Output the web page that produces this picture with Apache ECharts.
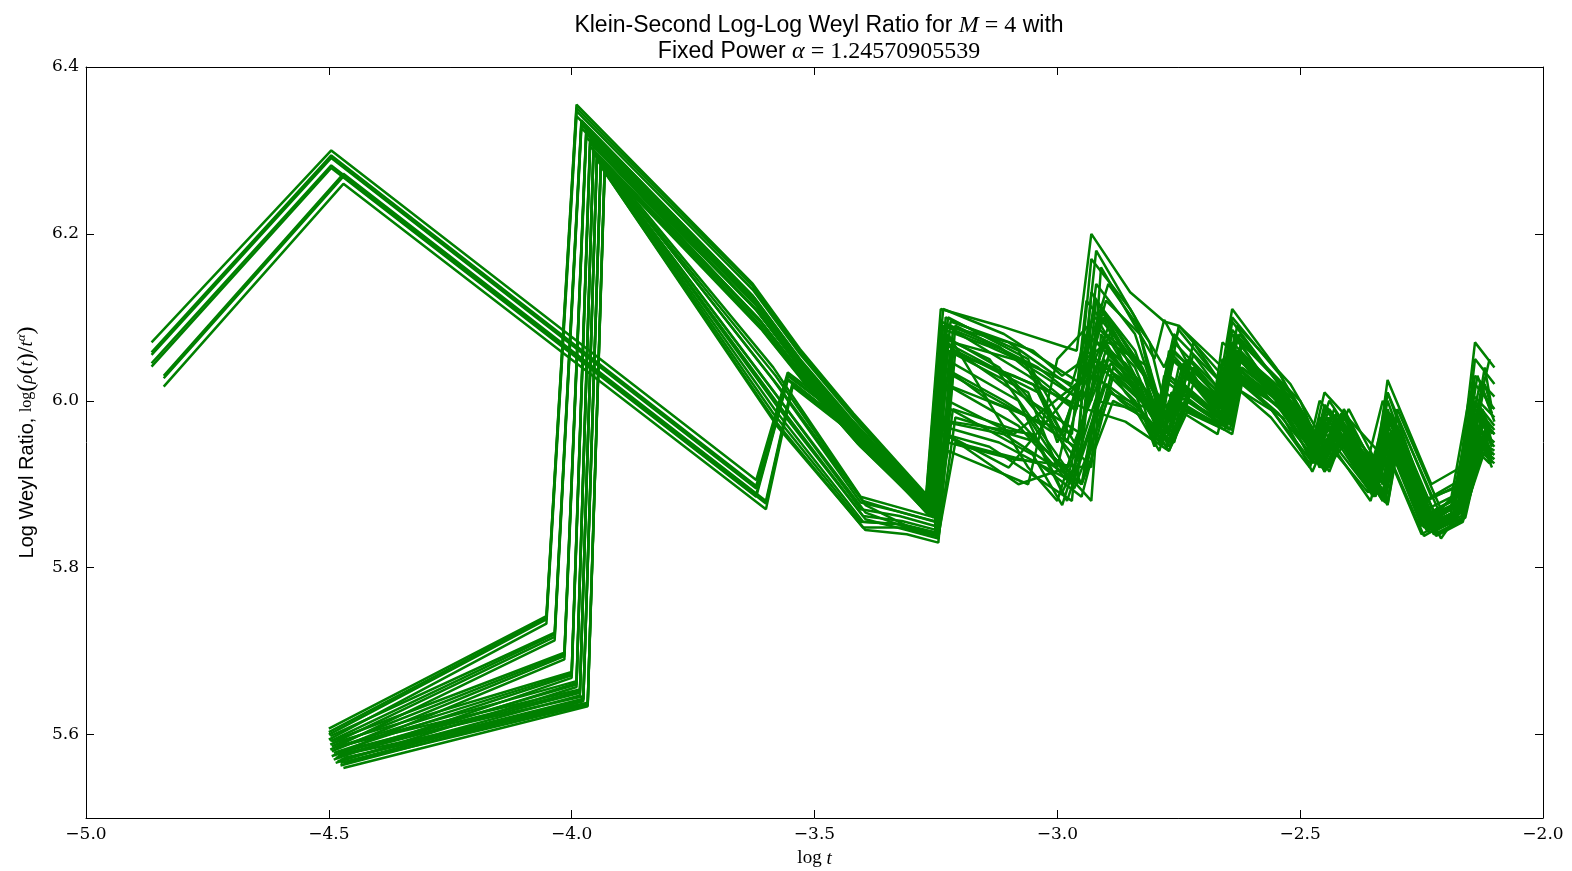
<!DOCTYPE html>
<html>
<head>
<meta charset="utf-8">
<script src="https://cdn.jsdelivr.net/npm/echarts@6/dist/echarts.min.js"></script>
<style>html,body{margin:0;padding:0;background:#fff}#c{width:1572px;height:871px}</style>
</head>
<body>
<div id="c"></div>
<script>
// ---- tick values ----
const xTicks = [-5.0, -4.5, -4.0, -3.5, -3.0, -2.5, -2.0];
const yTicks = [5.6, 5.8, 6.0, 6.2, 6.4];

// ---- x positions (log t) shared by groups of curves ----
const xT1 = [-4.500,-4.052,-3.990,-3.627,-3.530,-3.420,-3.270,-3.240,-3.120,-2.960,-2.930,-2.850,-2.780,-2.750,-2.660,-2.640,-2.550,-2.470,-2.450,-2.340,-2.320,-2.230,-2.170,-2.140,-2.100];
const xT2 = [-4.497,-4.035,-3.980,-3.622,-3.527,-3.417,-3.267,-3.230,-3.100,-2.930,-2.910,-2.840,-2.800,-2.780,-2.680,-2.660,-2.560,-2.480,-2.460,-2.360,-2.330,-2.250,-2.160,-2.120,-2.105];
const xT3 = [-4.494,-4.015,-3.970,-3.618,-3.523,-3.413,-3.262,-3.225,-3.060,-3.000,-2.920,-2.870,-2.760,-2.720,-2.650,-2.630,-2.520,-2.440,-2.410,-2.330,-2.300,-2.210,-2.180,-2.130,-2.110];
const xT4 = [-4.490,-4.000,-3.962,-3.614,-3.520,-3.410,-3.258,-3.220,-3.050,-2.990,-2.895,-2.810,-2.785,-2.765,-2.655,-2.635,-2.545,-2.455,-2.425,-2.345,-2.315,-2.235,-2.175,-2.135,-2.100];
const xT5 = [-4.486,-3.990,-3.955,-3.610,-3.516,-3.405,-3.255,-3.232,-3.140,-2.970,-2.940,-2.860,-2.770,-2.740,-2.670,-2.645,-2.535,-2.475,-2.445,-2.355,-2.325,-2.245,-2.185,-2.145,-2.110];
const xT6 = [-4.482,-3.983,-3.948,-3.585,-3.405,-3.325,-3.252,-3.230,-3.080,-2.980,-2.900,-2.830,-2.790,-2.770,-2.670,-2.625,-2.530,-2.460,-2.430,-2.350,-2.310,-2.240,-2.190,-2.150,-2.100];
const xT7 = [-4.476,-3.976,-3.940,-3.580,-3.400,-3.320,-3.248,-3.215,-3.060,-2.965,-2.890,-2.825,-2.775,-2.735,-2.645,-2.622,-2.515,-2.452,-2.415,-2.325,-2.305,-2.225,-2.168,-2.125,-2.105];
const xT8 = [-4.470,-3.967,-3.932,-3.575,-3.395,-3.310,-3.245,-3.210,-3.040,-2.950,-2.885,-2.820,-2.770,-2.730,-2.640,-2.620,-2.500,-2.450,-2.400,-2.320,-2.300,-2.220,-2.165,-2.120,-2.105];
const xA1 = [-4.865,-4.495,-3.620,-3.555,-3.420,-3.330,-3.270,-3.235,-3.110,-2.950,-2.920,-2.840,-2.790,-2.760,-2.660,-2.640,-2.540,-2.470,-2.440,-2.350,-2.320,-2.240,-2.170,-2.140,-2.100];
const xA2 = [-4.840,-4.470,-3.600,-3.545,-3.415,-3.320,-3.265,-3.225,-3.090,-2.940,-2.905,-2.860,-2.770,-2.740,-2.650,-2.630,-2.510,-2.460,-2.420,-2.330,-2.305,-2.220,-2.160,-2.125,-2.105];

// ---- log Weyl ratio values, one array per curve ----
const yB1  = [5.607,5.742,6.355,6.140,6.062,5.985,5.888,6.110,6.090,6.060,6.200,6.130,6.095,6.090,6.040,6.110,6.040,5.960,6.010,5.940,6.025,5.900,5.920,6.070,6.040];
const yB2  = [5.600,5.738,6.347,6.133,6.056,5.980,5.882,6.080,6.040,5.930,6.130,6.060,5.990,6.090,6.030,6.080,6.010,5.940,5.990,5.920,5.980,5.860,5.880,5.990,5.960];
const yB3  = [5.594,5.733,6.341,6.126,6.050,5.975,5.877,5.970,5.950,5.900,6.050,6.020,5.960,6.040,6.000,6.060,6.000,5.950,5.970,5.900,5.960,5.850,5.870,5.950,5.930];
const yB4  = [5.598,5.722,6.336,6.122,6.047,5.970,5.872,6.090,6.070,6.000,6.160,6.090,6.050,6.097,5.990,6.070,6.020,5.950,6.000,5.930,6.000,5.880,5.900,6.040,5.990];
const yB5  = [5.588,5.717,6.331,6.116,6.042,5.965,5.868,5.960,5.920,6.040,6.110,6.030,5.950,6.030,5.985,6.050,5.990,5.930,5.980,5.910,5.970,5.860,5.880,5.980,5.950];
const yB6  = [5.582,5.713,6.327,6.110,6.038,5.960,5.864,6.070,6.030,5.920,6.080,6.010,5.945,6.010,5.975,6.030,5.980,5.920,5.960,5.890,5.950,5.840,5.870,5.940,5.920];
const yB7  = [5.592,5.698,6.325,6.118,6.040,5.962,5.870,6.100,6.050,5.950,6.070,6.040,5.960,6.070,6.010,6.090,6.020,5.940,5.990,5.900,5.990,5.870,5.890,6.000,6.050];
const yB8  = [5.580,5.694,6.320,6.108,6.034,5.957,5.866,5.940,5.900,6.050,6.100,6.050,5.950,6.040,5.990,6.060,6.000,5.920,5.980,5.890,5.960,5.850,5.860,5.970,5.940];
const yB9  = [5.574,5.690,6.316,6.100,6.030,5.953,5.862,6.080,5.920,5.880,6.030,6.000,5.950,6.020,5.970,6.040,5.990,5.915,5.960,5.880,5.940,5.835,5.860,5.960,5.930];
const yB10 = [5.590,5.675,6.314,6.112,6.036,5.958,5.874,6.060,6.020,5.960,6.140,6.070,6.010,6.050,5.990,6.080,6.000,5.935,5.975,5.905,5.985,5.865,5.885,6.030,5.975];
const yB11 = [5.578,5.671,6.309,6.098,6.028,5.952,5.868,5.975,5.960,5.890,6.010,5.990,5.945,5.995,5.965,6.030,5.985,5.920,5.965,5.885,5.955,5.842,5.862,5.955,5.935];
const yB12 = [5.570,5.668,6.305,6.090,6.022,5.948,5.864,6.095,6.060,6.030,6.070,6.040,5.970,6.060,6.005,6.055,6.000,5.930,5.985,5.895,5.975,5.855,5.875,5.990,5.965];
const yB13 = [5.584,5.664,6.306,6.104,6.030,5.955,5.872,6.040,6.000,5.960,6.120,6.060,5.990,6.045,5.985,6.065,6.005,5.940,5.990,5.900,5.980,5.862,5.880,6.000,5.970];
const yB14 = [5.576,5.660,6.300,6.094,6.024,5.950,5.866,5.960,5.945,5.880,6.060,6.020,5.965,6.020,5.980,6.045,5.995,5.925,5.970,5.890,5.960,5.848,5.866,5.965,5.940];
const yB15 = [5.566,5.657,6.296,6.086,6.018,5.945,5.860,6.075,6.050,5.910,5.990,5.975,5.940,5.985,5.960,6.020,5.980,5.915,5.955,5.880,5.945,5.838,5.858,5.945,5.925];
const yB16 = [5.586,5.654,6.296,6.040,5.885,5.872,5.860,6.100,6.060,5.950,6.120,6.080,5.980,6.060,5.995,6.080,6.010,5.940,5.990,5.910,5.980,5.860,5.880,6.010,5.980];
const yB17 = [5.575,5.650,6.292,6.012,5.870,5.862,5.850,5.960,5.900,5.920,6.060,6.020,5.960,6.000,5.970,6.060,6.000,5.930,5.970,5.890,5.960,5.850,5.870,5.960,5.940];
const yB18 = [5.568,5.647,6.289,5.985,5.855,5.852,5.842,6.050,6.000,5.880,6.020,5.990,5.950,6.030,5.980,6.030,5.985,5.925,5.965,5.885,5.950,5.845,5.865,5.950,5.925];
const yB19 = [5.580,5.646,6.288,6.030,5.880,5.866,5.855,6.085,6.030,5.990,6.095,6.040,5.975,6.045,5.990,6.070,6.005,5.935,5.985,5.905,5.975,5.858,5.878,6.015,5.985];
const yB20 = [5.570,5.643,6.284,6.000,5.862,5.856,5.845,5.990,5.960,5.910,6.045,6.005,5.955,6.015,5.972,6.040,5.992,5.922,5.968,5.884,5.952,5.843,5.862,5.958,5.935];
const yB21 = [5.563,5.640,6.281,5.975,5.848,5.848,5.838,6.030,5.980,5.895,6.010,5.985,5.945,6.000,5.965,6.025,5.982,5.918,5.958,5.878,5.945,5.840,5.856,5.948,5.928];
const yB22 = [5.576,5.638,6.281,6.018,5.875,5.850,5.840,6.090,6.040,6.000,6.090,6.030,5.975,6.050,5.990,6.070,6.000,5.930,5.990,5.900,5.970,5.860,5.880,6.020,5.990];
const yB23 = [5.566,5.636,6.277,5.992,5.858,5.845,5.835,5.980,5.950,5.900,6.040,6.000,5.950,6.010,5.970,6.040,5.990,5.920,5.970,5.880,5.950,5.845,5.860,5.960,5.935];
const yB24 = [5.560,5.634,6.274,5.968,5.845,5.840,5.830,6.060,6.010,5.900,6.000,5.980,5.940,5.990,5.960,6.020,5.980,5.915,5.955,5.875,5.940,5.838,5.855,5.950,5.925];
const yB25 = [5.603,5.740,6.351,6.137,6.059,5.982,5.885,6.095,6.065,5.990,6.170,6.110,6.040,6.085,6.020,6.095,6.025,5.945,5.995,5.925,6.010,5.885,5.905,6.030,6.005];
const yB26 = [5.592,5.720,6.333,6.119,6.044,5.967,5.870,6.020,5.990,5.880,6.040,6.000,5.955,6.025,5.980,6.040,5.990,5.925,5.970,5.895,5.965,5.850,5.872,5.965,5.945];
const yB27 = [5.586,5.696,6.322,6.113,6.037,5.960,5.868,6.060,6.010,5.920,6.120,6.070,5.980,6.055,6.000,6.075,6.010,5.935,5.985,5.905,5.980,5.862,5.880,6.020,5.995];
const yB28 = [5.584,5.673,6.311,6.105,6.032,5.955,5.866,5.990,5.935,5.875,6.050,6.010,5.955,6.010,5.975,6.045,5.992,5.925,5.970,5.890,5.962,5.848,5.866,5.970,5.945];
const yB29 = [5.572,5.662,6.298,6.090,6.021,5.947,5.863,6.085,6.065,6.020,6.080,6.045,5.975,6.035,5.990,6.060,6.002,5.935,5.980,5.895,5.970,5.855,5.872,5.985,5.960];
const yB30 = [5.579,5.652,6.294,6.025,5.878,5.867,5.855,6.020,5.970,5.905,6.080,6.045,5.970,6.030,5.985,6.060,5.995,5.930,5.975,5.895,5.965,5.852,5.870,5.985,5.960];
const yB31 = [5.566,5.642,6.283,5.988,5.855,5.852,5.842,6.070,6.045,5.950,6.060,6.020,5.960,6.030,5.975,6.050,5.995,5.925,5.975,5.888,5.958,5.846,5.866,5.975,5.950];
const yB32 = [5.572,5.637,6.279,6.004,5.866,5.848,5.838,5.950,5.925,5.885,6.030,5.995,5.945,6.000,5.965,6.030,5.985,5.918,5.962,5.876,5.945,5.840,5.858,5.955,5.930];
const yA1  = [6.070,6.300,5.905,6.034,5.975,5.920,5.880,6.110,6.080,6.020,6.180,6.100,6.000,6.080,6.020,6.100,6.030,5.950,6.000,5.920,6.010,5.880,5.900,6.050,6.020];
const yA2  = [6.055,6.291,5.895,6.030,5.970,5.915,5.875,6.070,6.020,5.960,6.120,6.060,5.980,6.060,6.000,6.070,6.010,5.940,5.980,5.900,5.990,5.860,5.880,6.000,5.970];
const yA3  = [6.045,6.282,5.888,6.026,5.965,5.910,5.870,5.975,5.960,5.900,6.000,5.990,5.940,6.000,5.970,6.040,5.990,5.925,5.970,5.890,5.960,5.850,5.870,5.970,5.950];
const yA4  = [6.030,6.272,5.880,6.022,5.962,5.905,5.868,6.000,5.960,6.030,6.100,6.040,5.960,6.040,5.990,6.060,6.000,5.930,5.980,5.900,5.970,5.860,5.880,5.990,5.960];
const yA5  = [6.017,6.260,5.870,6.017,5.958,5.900,5.865,5.950,5.930,5.920,6.050,6.010,5.950,6.020,5.975,6.030,5.990,5.920,5.960,5.880,5.950,5.840,5.860,5.950,5.930];
const yA6  = [6.058,6.294,5.898,6.031,5.972,5.917,5.877,6.040,6.000,5.940,6.090,6.040,5.970,6.050,5.995,6.065,6.005,5.935,5.975,5.895,5.985,5.855,5.875,5.985,5.960];
const yA7  = [6.041,6.279,5.885,6.025,5.964,5.908,5.869,6.090,6.060,6.000,6.140,6.080,5.990,6.070,6.010,6.085,6.020,5.945,5.990,5.910,6.000,5.870,5.890,6.020,5.990];
const yA8  = [6.027,6.269,5.877,6.020,5.960,5.903,5.866,6.060,6.030,5.990,6.070,6.030,5.965,6.030,5.985,6.050,5.995,5.928,5.972,5.892,5.962,5.852,5.870,5.975,5.945];

const curves = [
  [xT1, yB1], [xT1, yB2], [xT1, yB3], [xT1, yB25],
  [xT2, yB4], [xT2, yB5], [xT2, yB6], [xT2, yB26],
  [xT3, yB7], [xT3, yB8], [xT3, yB9], [xT3, yB27],
  [xT4, yB10], [xT4, yB11], [xT4, yB12], [xT4, yB28],
  [xT5, yB13], [xT5, yB14], [xT5, yB15], [xT5, yB29],
  [xT6, yB16], [xT6, yB17], [xT6, yB18], [xT6, yB30],
  [xT7, yB19], [xT7, yB20], [xT7, yB21], [xT7, yB31],
  [xT8, yB22], [xT8, yB23], [xT8, yB24], [xT8, yB32],
  [xA1, yA1], [xA1, yA2], [xA1, yA3], [xA1, yA6], [xA1, yA7],
  [xA2, yA4], [xA2, yA5], [xA2, yA8]
];

const GREEN = '#008000';
const serif = '"DejaVu Serif", "Liberation Serif", serif';
const tserif = '"Liberation Serif", "DejaVu Serif", serif';
const sans = '"Liberation Sans", Arial, sans-serif';
const fmt = v => (v < 0 ? '\u2212' : '') + Math.abs(v).toFixed(1);

const series = curves.map(([xs, ys]) => ({
  type: 'line',
  data: xs.map((x, i) => [x, ys[i]]),
  showSymbol: false,
  symbol: 'none',
  lineStyle: { color: GREEN, width: 2.5 },
  silent: true
}));

const chart = echarts.init(document.getElementById('c'), null, { renderer: 'canvas' });
const tickStyle = { show: true, inside: true, length: 8, lineStyle: { color: '#000', width: 1 } };
chart.setOption({
  animation: false,
  backgroundColor: '#fff',
  title: {
    left: 814, top: 8, textAlign: 'center',
    text: '{s|Klein-Second Log-Log Weyl Ratio for }{i|M}{m| = 4}{s| with}\n{s|Fixed Power }{i|\u03b1}{m| = 1.24570905539}',
    textStyle: {
      fontWeight: 'normal',
      rich: {
        s: { fontFamily: sans, fontSize: 23, fontWeight: 'normal', color: '#000', lineHeight: 26 },
        i: { fontFamily: tserif, fontStyle: 'italic', fontWeight: 'normal', fontSize: 24, color: '#000', lineHeight: 26 },
        m: { fontFamily: tserif, fontWeight: 'normal', fontSize: 24, color: '#000', lineHeight: 26 }
      }
    }
  },
  grid: { left: 86, right: 29, top: 67, bottom: 53, containLabel: false, outerBoundsMode: 'none' },
  xAxis: [{
    type: 'value', min: -5, max: -2, interval: 0.5,
    name: '{a|log }{b|t}', nameLocation: 'middle', nameGap: 31,
    nameTextStyle: { rich: {
      a: { fontFamily: tserif, fontSize: 19, color: '#000' },
      b: { fontFamily: tserif, fontStyle: 'italic', fontSize: 19, color: '#000' } } },
    axisLine: { show: true, onZero: false, lineStyle: { color: '#000', width: 1 } },
    axisTick: tickStyle,
    axisLabel: { customValues: xTicks, formatter: fmt, fontFamily: serif, fontSize: 17, color: '#000', margin: 8 },
    splitLine: { show: false }
  }, {
    type: 'value', min: -5, max: -2, interval: 0.5, position: 'top',
    axisLine: { show: true, onZero: false, lineStyle: { color: '#000', width: 1 } },
    axisTick: tickStyle, axisLabel: { show: false }, splitLine: { show: false }
  }],
  yAxis: [{
    type: 'value', min: 5.5, max: 6.4,
    name: '{a|Log Weyl Ratio, }{b|log}{c|(}{d|\u03c1}{c|(}{d|t}{c|)/}{d|t}{e|\u03b1}{c|)}',
    nameLocation: 'middle', nameGap: 47, nameRotate: 90,
    nameTextStyle: { rich: {
      a: { fontFamily: sans, fontSize: 20, color: '#000' },
      b: { fontFamily: tserif, fontSize: 16, color: '#000' },
      c: { fontFamily: tserif, fontSize: 24, color: '#000' },
      d: { fontFamily: tserif, fontStyle: 'italic', fontSize: 19, color: '#000' },
      e: { fontFamily: tserif, fontStyle: 'italic', fontSize: 13, color: '#000', verticalAlign: 'top', padding: [0, 0, 8, 0] } } },
    axisLine: { show: true, onZero: false, lineStyle: { color: '#000', width: 1 } },
    axisTick: Object.assign({ customValues: yTicks }, tickStyle),
    axisLabel: { customValues: yTicks, formatter: fmt, fontFamily: serif, fontSize: 17, color: '#000', margin: 7 },
    splitLine: { show: false }
  }, {
    type: 'value', min: 5.5, max: 6.4, position: 'right',
    axisLine: { show: true, onZero: false, lineStyle: { color: '#000', width: 1 } },
    axisTick: Object.assign({ customValues: yTicks }, tickStyle),
    axisLabel: { show: false }, splitLine: { show: false }
  }],
  series: series
});
</script>
</body>
</html>
